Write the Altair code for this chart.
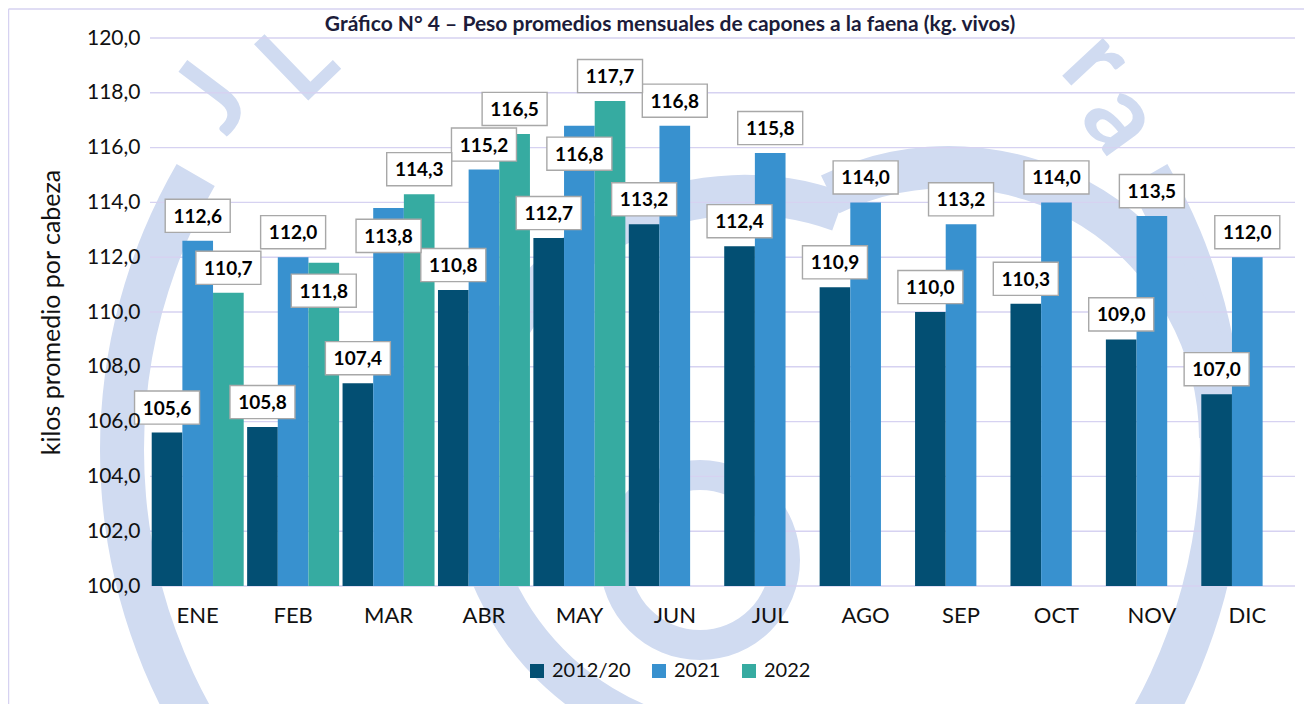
import altair as alt
import pandas as pd

months = ["ENE", "FEB", "MAR", "ABR", "MAY", "JUN", "JUL", "AGO", "SEP", "OCT", "NOV", "DIC"]
series = ["2012/20", "2021", "2022"]
v_2012_20 = [105.6, 105.8, 107.4, 110.8, 112.7, 113.2, 112.4, 110.9, 110.0, 110.3, 109.0, 107.0]
v_2021 = [112.6, 112.0, 113.8, 115.2, 116.8, 116.8, 115.8, 114.0, 113.2, 114.0, 113.5, 112.0]
v_2022 = [110.7, 111.8, 114.3, 116.5, 117.7]
# labels that Excel placed inside the bar (below its top)
labels_inside = [("FEB", "2022"), ("MAR", "2021"), ("MAY", "2021")]
y_ticks = [100, 102, 104, 106, 108, 110, 112, 114, 116, 118, 120]
colors = ["#034F73", "#3891CF", "#36ABA1"]
title_text = "Gráfico N° 4 – Peso promedios mensuales de capones a la faena (kg. vivos)"

rows = []
for s, vals in zip(series, [v_2012_20, v_2021, v_2022]):
    for m, v in zip(months, vals):
        rows.append({
            "mes": m,
            "serie": s,
            "valor": v,
            "etiqueta": f"{v:.1f}".replace(".", ","),
            "dentro": (m, s) in labels_inside,
        })
df = pd.DataFrame(rows)

FONT = "Lato"
W, H = 1145, 548
LAV = "#D6D2F1"      # grid / frame
WM = "#D0DBF1"       # watermark
OX, OY = 150, 38     # plot origin on the page (for decoration only)
DEG = 3.141592653589793 / 180

x_enc = alt.X("mes:N", sort=months,
              scale=alt.Scale(domain=months, paddingInner=0.036, paddingOuter=0.018),
              axis=alt.Axis(title=None, labelFont=FONT, labelFontSize=22, labelColor="#111111",
                            labelPadding=19, ticks=False, domain=False, labelAngle=0, zindex=2))
xo_enc = alt.XOffset("serie:N", sort=series,
                     scale=alt.Scale(domain=series, paddingInner=0, paddingOuter=0))
y_scale = alt.Scale(domain=[100, 120], zero=False, nice=False)

base = alt.Chart(df)

# ---------- watermark (decoration, behind everything) ----------
one = alt.Data(values=[{}])

def ring(cx, cy, r1, r2, t1, t2):
    return alt.Chart(one).mark_arc(radius=r2, radius2=r1, theta=t1 * DEG, theta2=t2 * DEG,
                                   color=WM, stroke=None).encode(
        x=alt.value(cx - OX), y=alt.value(cy - OY))

def letter(ch, cx, cy, ang):
    return alt.Chart(one).mark_text(text=ch, font=FONT, fontSize=108, fontWeight="bold",
                                    color=WM, angle=ang, align="center", baseline="middle").encode(
        x=alt.value(cx - OX), y=alt.value(cy - OY))

watermark = [
    ring(672, 450, 528, 572, 60, 300),
    ring(745, 470, 255, 295, 200, 380),
    ring(949, 438, 250, 292, 334, 450),
    ring(700, 560, 70, 100, 0, 360),
    letter("J", 215, 100, 307),
    letter("L", 300, 64, 316),
    letter("r", 1095, 64, 47),
    letter("a", 1120, 120, 54),
]

grid = alt.Chart(pd.DataFrame({"t": y_ticks})).mark_rule(color=LAV, strokeWidth=1.4).encode(
    y=alt.Y("t:Q", scale=y_scale), x=alt.value(0), x2=alt.value(W))

bars = base.mark_bar(clip=True).encode(
    x=x_enc,
    xOffset=xo_enc,
    y=alt.Y("valor:Q", scale=y_scale,
            axis=alt.Axis(values=y_ticks,
                          labelExpr="replace(format(datum.value, '.1f'), '.', ',')",
                          grid=False, domain=False, ticks=False, zindex=2,
                          labelFont=FONT, labelFontSize=21, labelColor="#111111", labelPadding=10,
                          title="kilos promedio por cabeza", titleFont=FONT, titleFontSize=25,
                          titleFontWeight="normal", titleColor="#111111", titlePadding=22)),
    y2=alt.datum(100),
    color=alt.Color("serie:N", sort=series,
                    scale=alt.Scale(domain=series, range=colors),
                    legend=alt.Legend(title=None, orient="none", direction="horizontal",
                                      legendX=377, legendY=623, zindex=3,
                                      symbolType="square", symbolSize=196, symbolStrokeWidth=0,
                                      labelFont=FONT, labelFontSize=20, labelColor="#111111",
                                      columnPadding=18, symbolOffset=0, labelOffset=5)),
)

def box_layer(inside):
    sub = base.transform_filter(alt.datum.dentro if inside else ~alt.datum.dentro)
    off = 28 if inside else -25
    boxes = sub.mark_point(shape="M-1,-0.51H1V0.51H-1Z", size=65 * 65, filled=True,
                           fill="white", stroke="#A8A8A8", strokeWidth=1.4, opacity=1,
                           yOffset=off).encode(
        x=alt.X("mes:N", sort=months), xOffset=alt.XOffset("serie:N", sort=series),
        y=alt.Y("valor:Q", scale=y_scale))
    texts = sub.mark_text(font=FONT, fontSize=19, fontWeight="bold", color="#000000",
                          baseline="middle", align="center", dy=off + 1).encode(
        x=alt.X("mes:N", sort=months), xOffset=alt.XOffset("serie:N", sort=series),
        y=alt.Y("valor:Q", scale=y_scale), text="etiqueta:N")
    return boxes + texts

frame_top = alt.Chart(one).mark_rule(color=LAV, strokeWidth=1.5).encode(
    x=alt.value(-141.5), x2=alt.value(1160), y=alt.value(-29))
frame_left = alt.Chart(one).mark_rule(color=LAV, strokeWidth=1.5).encode(
    x=alt.value(-141.5), y=alt.value(-29), y2=alt.value(680))
title = alt.Chart(one).mark_text(
    text=title_text, font=FONT, fontSize=21, fontWeight="bold", color="#1C1C3A",
    align="center", baseline="top").encode(x=alt.value(520), y=alt.value(-24))

chart = alt.layer(*watermark, frame_top, frame_left, title, grid, bars,
                  box_layer(False), box_layer(True)).properties(
    width=W, height=H, background="white",
    autosize=alt.AutoSizeParams(type="none"),
    padding={"left": 142, "top": 30, "right": 1296 - 142 - W, "bottom": 696 - 30 - H},
).configure_view(stroke=None)

chart.save("out.html", embed_options={"renderer": "svg", "actions": False})
